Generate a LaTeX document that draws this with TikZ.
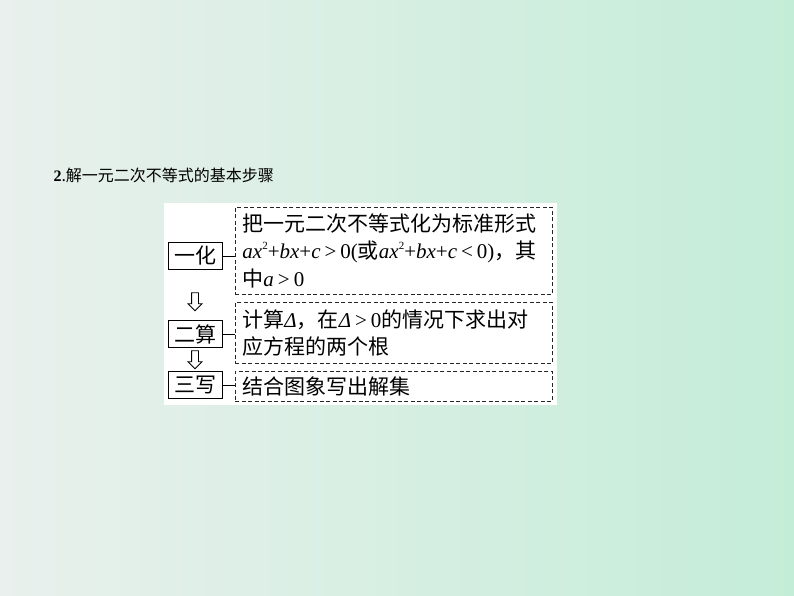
\documentclass[tikz,border=0pt]{standalone}
\usepackage{fontspec}
\setmainfont{Noto Sans CJK SC}
\newfontfamily\tm{Liberation Serif}
\usepackage{xcolor}
\usetikzlibrary{calc, positioning, shapes.arrows}
\definecolor{bgtop}{HTML}{E9F0ED}
\definecolor{bgbot}{HTML}{C4EDD8}
\newcommand{\mv}[1]{{\tm\itshape #1}}
\newcommand{\sq}{\raisebox{0.45em}{\tm\fontsize{11}{11}\selectfont 2}}
\newcommand{\rel}[1]{\hspace{4pt}{\tm #1}\hspace{4pt}}

\begin{document}
\begin{tikzpicture}[
    x=1pt, y=-1pt,
    every node/.style = {font=\fontsize{21}{27.5}\selectfont},
    labelbox/.style = {draw, line width=0.8pt, inner sep=0pt,
                       minimum width=54pt, minimum height=27pt},
    stepbox/.style = {draw=black!85, line width=0.9pt,
                      dash pattern=on 4pt off 2.5pt, anchor=north west,
                      text width=303pt, inner xsep=7pt, inner ysep=0pt,
                      align=left},
    hollow/.style = {single arrow, draw, line width=0.8pt, fill=white,
                     shape border rotate=270, inner sep=3pt,
                     minimum height=18pt,
                     single arrow head extend=3.5pt},
                            ]
    \useasboundingbox (0,0) rectangle (794,596);
    \shade[shading angle=135, left color=bgtop, right color=bgbot]
        (0,0) rectangle (794,596);
    \fill[white] (164,203) rectangle (557,405);
    \node (title) [anchor=base west, font=\fontsize{16}{19}\selectfont]
        at (50,181) {{\tm\bfseries 2}.解一元二次不等式的基本步骤};
    \node (l1) [labelbox] at (195,256) {一化};
    \node (l2) [labelbox] at (195,334) {二算};
    \node (l3) [labelbox] at (195,385) {三写};
    \node (d1) [stepbox, minimum height=87pt] at (235,207)
        {把一元二次不等式化为标准形式\\
         \mbox{\mv{ax}\sq{\tm+}\mv{bx}{\tm+}\mv{c}\rel{>}{\tm 0(}或\mv{ax}\sq{\tm+}\mv{bx}{\tm+}\mv{c}\rel{<}{\tm 0)}，其}\\
         中\mv{a}\rel{>}{\tm 0}};
    \node (d2) [stepbox, minimum height=61pt] at (235,302)
        {计算\mv{Δ}，在\mv{Δ}\rel{>}{\tm 0}的情况下求出对\\
         应方程的两个根};
    \node (d3) [stepbox, minimum height=30pt] at (235,371)
        {结合图象写出解集};
    \node (a1) [hollow] at (195,300) {};
    \node (a2) [hollow] at (195,358) {};
    \draw[line width=0.8pt] (l1.east) -- (l1.east -| d1.west)
        (l2.east) -- (l2.east -| d2.west)
        (l3.east) -- (l3.east -| d3.west);
\end{tikzpicture}
\end{document}
